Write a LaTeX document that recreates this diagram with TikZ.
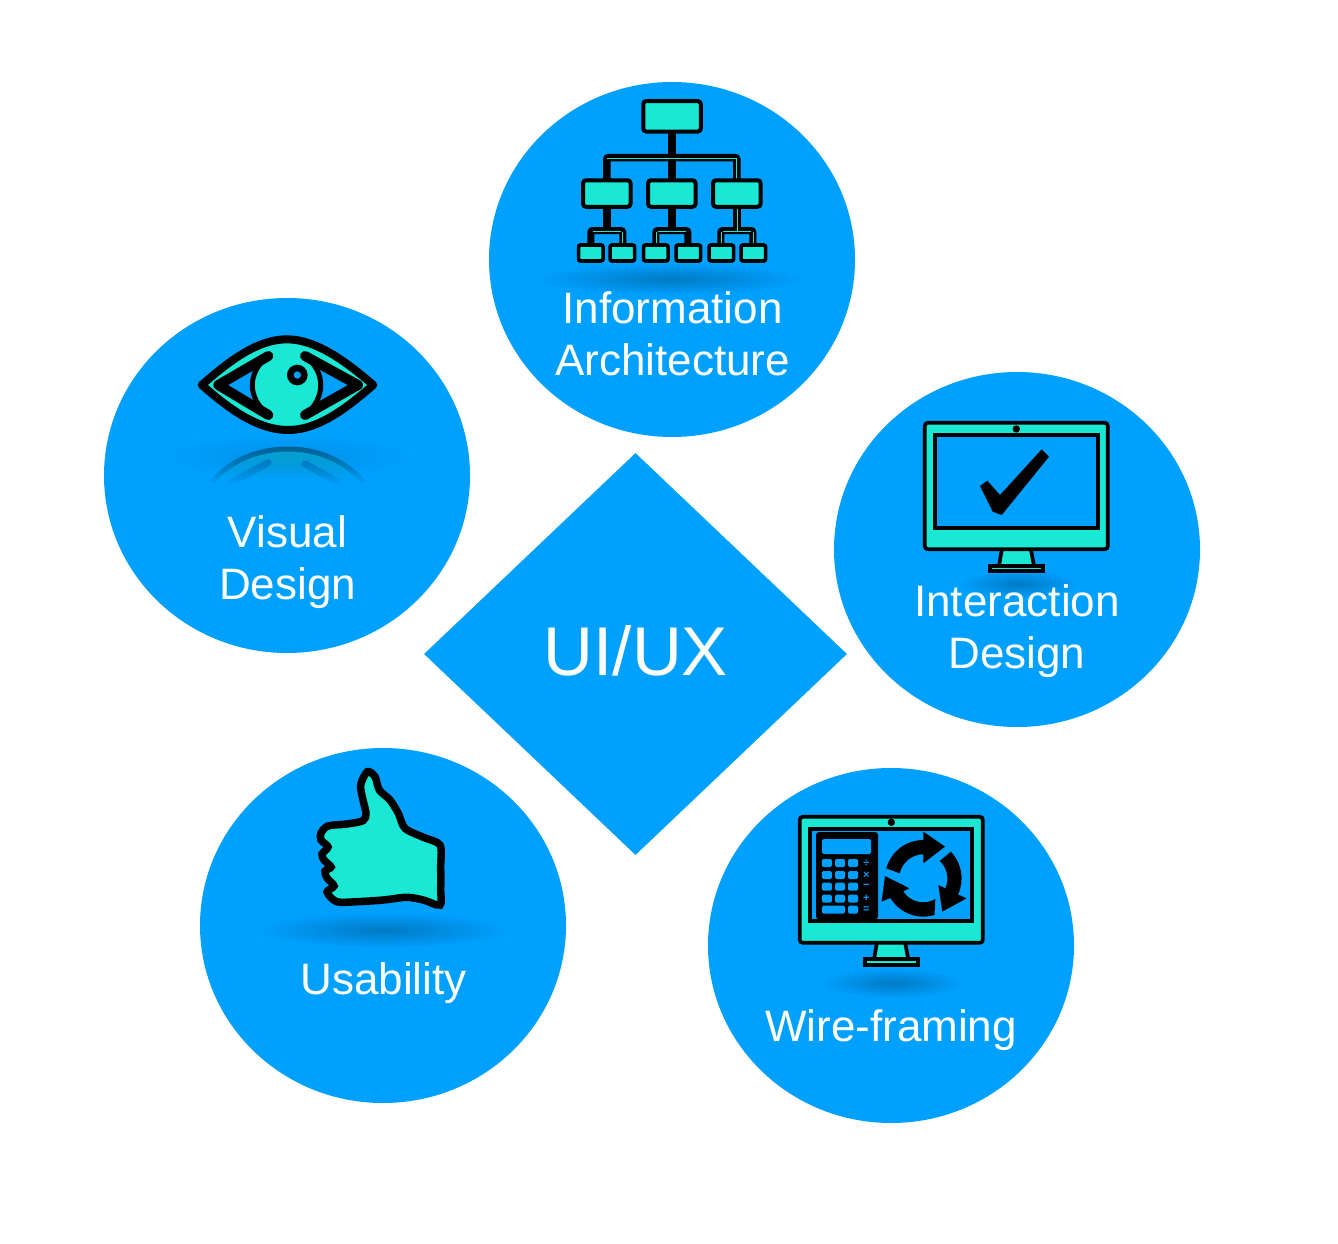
\documentclass[tikz,border=0pt]{standalone}
\usepackage{fontspec}
\setmainfont{Liberation Sans}
\usetikzlibrary{shapes.geometric}
\usetikzlibrary{fadings}
\definecolor{discblue}{RGB}{0,160,255}
\definecolor{iconteal}{RGB}{24,232,212}
\definecolor{blobblue}{RGB}{0,122,196}
\definecolor{mirrorblue}{RGB}{0,96,150}
\definecolor{mirrorteal}{RGB}{6,160,205}
\tikzfading[name=fade_down, top color=transparent!0, bottom color=transparent!100]
\tikzset{
	node_disc/.style = {
		ellipse,
		fill=discblue,
		inner sep=0pt,
		minimum width=366pt,
		minimum height=355pt
	},
	node_rhomb/.style = {
		diamond,
		fill=discblue,
		inner sep=0pt,
		minimum width=423pt,
		minimum height=402pt
	},
	node_label/.style = {
		align=center,
		text=white,
		inner sep=0pt,
		font=\fontsize{44}{52}\selectfont
	},
	node_org/.style = {
		rectangle,
		rounded corners=3pt,
		draw=black,
		fill=iconteal,
		line width=4pt,
		inner sep=0pt
	},
	node_org_a/.style = {node_org, minimum width=57.5pt, minimum height=30.5pt},
	node_org_b/.style = {node_org, minimum width=47.5pt, minimum height=26.5pt},
	node_org_c/.style = {node_org, rounded corners=2pt, line width=3.6pt, minimum width=24.5pt, minimum height=16pt},
	org_link/.style = {draw=black, line width=7.5pt, rounded corners=2pt},
	org_twig/.style = {draw=black, line width=7pt, rounded corners=2pt},
	org_glint/.style = {draw=iconteal, line width=0.7pt},
	node_key/.style = {
		rectangle,
		rounded corners=1.5pt,
		fill=discblue,
		inner sep=0pt,
		minimum width=10pt,
		minimum height=8pt
	},
	node_op/.style = {
		text=discblue,
		inner sep=0pt,
		font=\fontsize{11}{11}\selectfont\bfseries
	},
	icon_line/.style = {draw=black, line width=3.7pt},
	icon_shell/.style = {icon_line, fill=iconteal, rounded corners=3pt},
	icon_screen/.style = {icon_line, fill=discblue},
	icon_stand/.style = {icon_line, fill=iconteal},
	blob/.style = {inner color=blobblue, outer color=discblue},
}

\begin{document}
\begin{tikzpicture}[x=1pt,y=-1pt]
\useasboundingbox (0,0) rectangle (1338,1244);

\node [node_disc] (info) at (672,259.5) {};
\node [node_disc] (visual) at (287,475.5) {};
\node [node_disc] (inter) at (1017,549.5) {};
\node [node_disc] (usab) at (383,925.5) {};
\node [node_disc] (wire) at (891,945.5) {};
\node [node_rhomb] (uiux) at (635.5,654) {};

% shadows under the icons
\shade [blob] (670,279) ellipse [x radius=135, y radius=16];
\shade [blob, inner color=discblue!60!blobblue] (288,456) ellipse [x radius=125, y radius=22];
\shade [blob] (1019,584) ellipse [x radius=60, y radius=14];
\shade [blob] (383,930) ellipse [x radius=125, y radius=18];
\shade [blob] (893,983) ellipse [x radius=72, y radius=15];

% org chart
\draw [org_link] (672,132) -- (672,180);
\draw [org_link] (606.8,180) -- (606.8,157.5) -- (736.8,157.5) -- (736.8,180);
\foreach \mx in {606.8,671.8,736.8} {
	\draw [org_link] (\mx,205) -- (\mx,230);
	\draw [org_twig] (\mx-16,245) -- (\mx-16,230.5) -- (\mx+16,230.5) -- (\mx+16,245);
	\draw [org_glint] (\mx-14,231.5) -- (\mx+14,231.5);
}
\draw [org_glint] (607,158) -- (736.8,158) -- (736.8,180);
\draw [org_glint] (737.5,205) -- (737.5,231);
\draw [org_glint] (622.3,231.5) -- (622.3,246);
\draw [org_glint] (656.5,231.5) -- (656.5,246);
\draw [org_glint] (721.5,231.5) -- (721.5,246);
\draw [org_glint] (753.5,231.5) -- (753.5,246);
\node [node_org_a] (chief) at (672,116.3) {};
\node [node_org_b] (dept_a) at (606.8,193.5) {};
\node [node_org_b] (dept_b) at (671.8,193.5) {};
\node [node_org_b] (dept_c) at (736.8,193.5) {};
\node [node_org_c] (team_a) at (590.8,253) {};
\node [node_org_c] (team_b) at (622.3,253) {};
\node [node_org_c] (team_c) at (655.8,253) {};
\node [node_org_c] (team_d) at (688.3,253) {};
\node [node_org_c] (team_e) at (721.3,253) {};
\node [node_org_c] (team_f) at (753.3,253) {};

% eye and its mirror image
\fill [mirrorteal, path fading=fade_down] (212,482) .. controls (232,458) and (262,449) .. (288,449) .. controls (314,449) and (342,458) .. (364,482) -- cycle;
\draw [mirrorblue, line width=5pt, path fading=fade_down] (212,482) .. controls (232,458) and (262,449) .. (288,449) .. controls (314,449) and (342,458) .. (364,482);
\draw [blobblue, line width=7pt, line cap=round, path fading=fade_down] (268,463) -- (232,482);
\draw [blobblue, line width=7pt, line cap=round, path fading=fade_down] (305,464) -- (338,482);
\draw [black, line width=8pt, line join=round, fill=iconteal] (201.7,385) .. controls (225,365) and (255,339.3) .. (286.7,339.3) .. controls (318,339.3) and (350,365) .. (373.3,385) .. controls (350,405) and (320,430) .. (288.3,430) .. controls (255,430) and (225,405) .. cycle;
\fill [discblue] (268.3,356) -- (218.3,385) -- (268.3,415) .. controls (247,398) and (247,372) .. cycle;
\fill [discblue] (305,356) -- (358,385) -- (305,415) .. controls (326,398) and (326,372) .. cycle;
\draw [black, line width=10pt, line cap=round, line join=round] (268.3,356) -- (218.3,385) -- (268.3,415);
\draw [black, line width=10pt, line cap=round, line join=round] (305,356) -- (358,385) -- (305,415);
\draw [black, line width=5pt] (268.3,356) .. controls (247,372) and (247,398) .. (268.3,415);
\draw [black, line width=5pt] (305,356) .. controls (326,372) and (326,398) .. (305,415);
\draw [black, line width=6.5pt, fill=discblue] (297.3,375) circle [radius=7];

% monitor with check mark
\draw [icon_stand] (1001.7,550) -- (999,566) -- (1034,566) -- (1031,550);
\draw [icon_stand] (989.7,566) rectangle (1043.3,571);
\draw [icon_shell] (924.8,422.8) rectangle (1107.8,549.2);
\draw [icon_screen] (934.8,434.8) rectangle (1098.2,528.2);
\fill [black] (1016.3,429) circle [radius=3.7];
\fill [black] (980,486) -- (987.3,480.7) -- (1000,495) -- (1041.7,449.3) -- (1049,456.7) -- (1001.7,515) -- (992.7,511.7) -- cycle;

% monitor with calculator
\draw [icon_stand] (877,942) -- (874,959.5) -- (908.3,959.5) -- (905,942);
\draw [icon_stand] (865,959.3) rectangle (918,964.7);
\draw [icon_shell] (799.8,816.8) rectangle (982.8,942.8);
\draw [icon_screen] (809.8,828.8) rectangle (972.2,921.2);
\fill [black] (891.3,822.3) circle [radius=3.7];
\fill [black, rounded corners=3pt] (816,832) rectangle (878,919.3);
\node [node_key, minimum width=49pt, minimum height=15pt] (calc_show) at (846.5,846.5) {};
\foreach \cx [count=\c] in {826.8,840,853} {
	\foreach \ry [count=\r] in {863,875,886.7,898.7} {
		\node [node_key] (key_\c_\r) at (\cx,\ry) {};
	}
}
\node [node_key, minimum width=23pt] (key_wide) at (833.5,909.7) {};
\node [node_key] (key_end) at (853,909.7) {};
\foreach \op/\oy [count=\n] in {÷/863,×/875,−/886.7,+/898.7,=/909.7} {
	\node [node_op] (op\n) at (866.3,\oy) {\op};
}

% recycling arrows
\begin{scope}[shift={(923.3,878.3)}]
\fill [black] (-165:38.3) arc [start angle=-165, end angle=-90, radius=38.3] -- (0,-46.7) -- (21.7,-31.7) -- (0,-15) -- (0,-24) arc [start angle=-90, end angle=-168, radius=24] -- cycle;
\fill [black] (-44:38.3) arc [start angle=-44, end angle=25, radius=38.3] -- (43.3,20) -- (19,33.3) -- (15,6.7) -- (22,10) arc [start angle=24, end angle=-47, radius=24] -- cycle;
\fill [black] (73:38.3) arc [start angle=73, end angle=149, radius=38.3] -- (-41.7,23.3) -- (-38.3,-2.3) -- (-14,10) -- (147:24) arc [start angle=147, end angle=60, radius=24] -- cycle;
\end{scope}

% thumb
\draw [black, line width=7.5pt, fill=iconteal] plot [smooth cycle, tension=0.5] coordinates {
	(367.3,771.7) (375,776.7) (379.3,790) (390,800) (398.3,813.3) (405,828.3)
	(423.3,837.3) (440,845) (440.7,866.7) (440.7,890) (440,905) (423.3,900)
	(406.7,897.3) (383.3,900) (356.7,901.7) (336.7,901.7) (327,892) (334,886)
	(327,878) (325,871) (331,867) (324,860) (322,854) (328,847) (321,840)
	(321,833) (328,826) (346.7,824) (363,820.7) (366,813.3) (363,800) (360.7,785)
};

\node [node_label] (info_text) at (672.5,334) {Information\\Architecture};
\node [node_label] (visual_text) at (287.5,562) {Visual\\Design};
\node [node_label] (inter_text) at (1017,631) {Interaction\\Design};
\node [node_label] (usab_text) at (383.5,983) {Usability};
\node [node_label] (wire_text) at (891,1030) {Wire-framing};
\node [text=white, inner sep=0pt, font=\fontsize{69}{80}\selectfont] (uiux_text) at (636,651) {UI/UX};
\end{tikzpicture}
\end{document}
